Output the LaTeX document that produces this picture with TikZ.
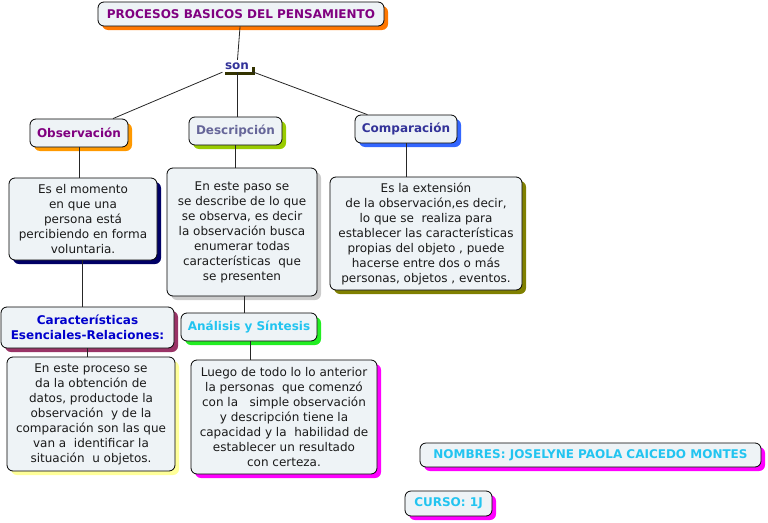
\documentclass[tikz,border=0pt]{standalone}
\usepackage{fontspec}
\setmainfont{DejaVu Sans}
\usetikzlibrary{shadows}
\definecolor{boxfill}{HTML}{EEF3F6}
\definecolor{bodytxt}{HTML}{1A1A1A}
\definecolor{cpurple}{HTML}{800080}
\definecolor{cslate}{HTML}{666699}
\definecolor{cnavytxt}{HTML}{333399}
\definecolor{cblue}{HTML}{0000CC}
\definecolor{ccyan}{HTML}{22C4F0}
\definecolor{shorange}{HTML}{FF7700}
\definecolor{shorange2}{HTML}{FF9900}
\definecolor{shgreen}{HTML}{99CC00}
\definecolor{shblue}{HTML}{3366FF}
\definecolor{shnavy}{HTML}{000066}
\definecolor{shgray}{HTML}{CCCCCC}
\definecolor{sholive}{HTML}{808000}
\definecolor{shmaroon}{HTML}{993366}
\definecolor{shlime}{HTML}{22EE22}
\definecolor{shyellow}{HTML}{FFFF99}
\definecolor{shmagenta}{HTML}{FF00FF}
\definecolor{barolive}{HTML}{333300}
\tikzset{
  cbox/.style={draw=black, line width=0.8pt, fill=boxfill, rounded corners=6pt,
    inner sep=0pt, align=center, font=\fontsize{12}{15}\selectfont, text=bodytxt},
  sh/.style={drop shadow={shadow xshift=4pt, shadow yshift=-4pt, fill=#1, opacity=1}},
  lbl/.style={font=\fontsize{12}{15}\selectfont\bfseries},
  conn/.style={draw=black!85, line width=0.8pt},
}
\begin{document}
\begin{tikzpicture}[x=1pt,y=-1pt]
\useasboundingbox (0,0) rectangle (768,522);
% title
\node[cbox, lbl, sh=shorange, minimum width=286, minimum height=24, text=cpurple] (title) at (241,14) {PROCESOS BASICOS DEL PENSAMIENTO};
% son
\fill[barolive] (225,72) rectangle (255,75);
\fill[barolive] (252,67) rectangle (255,75);
\node[lbl, inner sep=0pt, minimum width=30, minimum height=12, text=cnavytxt] (son) at (237,66) {son};
% concepts
\node[cbox, lbl, sh=shorange2, minimum width=98, minimum height=28, text=cpurple] (obs) at (79,133) {Observación};
\node[cbox, lbl, sh=shgreen, minimum width=93, minimum height=28, text=cslate] (desc) at (235.5,131) {Descripción};
\node[cbox, lbl, sh=shblue, minimum width=102, minimum height=28, text=cnavytxt] (comp) at (406,129) {Comparación};
\node[cbox, sh=shnavy, minimum width=148, minimum height=82] (obsT) at (83,219)
  {Es el momento\\ en que una\\ persona está\\percibiendo en forma\\voluntaria.};
\node[cbox, sh=shgray, minimum width=150, minimum height=128] (descT) at (242,232)
  {En este paso se\\se describe de lo que\\ se observa, es decir\\la observación busca\\ enumerar todas\\características\ \ que\\se presenten};
\node[cbox, sh=sholive, minimum width=192, minimum height=113] (compT) at (426,233.5)
  {Es la extensión\\de la observación,es decir,\\lo que se\ \ realiza para\\establecer las características\\propias del objeto , puede\\ hacerse entre dos o más\\personas, objetos , eventos.};
\node[cbox, lbl, sh=shmaroon, minimum width=173, minimum height=41, text=cblue] (car) at (87.5,327.5)
  {Características\\Esenciales-Relaciones:};
\node[cbox, lbl, sh=shlime, minimum width=136, minimum height=28, text=ccyan] (anal) at (249,327) {Análisis y Síntesis};
\node[cbox, sh=shyellow, minimum width=168, minimum height=114] (carT) at (91,414)
  {En este proceso se\\da la obtención de\\ datos, productode la\\observación\ \ y de la\\comparación son las que\\van a\ \ identificar la\\situación\ \ u objetos.};
\node[cbox, sh=shmagenta, minimum width=186, minimum height=114] (analT) at (284,417)
  {Luego de todo lo lo anterior\\la personas\ \ que comenzó\\con la\ \ \ simple observación\\y descripción tiene la\\capacidad y la\ \ habilidad de\\ establecer un resultado\\con certeza.};
\node[cbox, lbl, sh=shmagenta, minimum width=341, minimum height=24, text=ccyan] (nom) at (590.5,455) {NOMBRES: JOSELYNE PAOLA CAICEDO MONTES};
\node[cbox, lbl, sh=shmagenta, minimum width=87, minimum height=25, text=ccyan] (cur) at (448.5,503.5) {CURSO: 1J};
% connectors
\draw[conn] (title) -- (son);
\draw[conn] (son) -- (obs);
\draw[conn] (son.south) -- (son.south |- desc.north);
\draw[conn] (son) -- (comp);
\draw[conn] (obs.south) -- (obs.south |- obsT.north);
\draw[conn] ([xshift=-1pt]obsT.south) -- ([xshift=-1pt]obsT.south |- car.north);
\draw[conn] (car.south) -- (car.south |- carT.north);
\draw[conn] (desc.south) -- (desc.south |- descT.north);
\draw[conn] ([xshift=2pt]descT.south) -- ([xshift=2pt]descT.south |- anal.north);
\draw[conn] ([xshift=1pt]anal.south) -- ([xshift=1pt]anal.south |- analT.north);
\draw[conn] (comp.south) -- (comp.south |- compT.north);
\end{tikzpicture}
\end{document}
